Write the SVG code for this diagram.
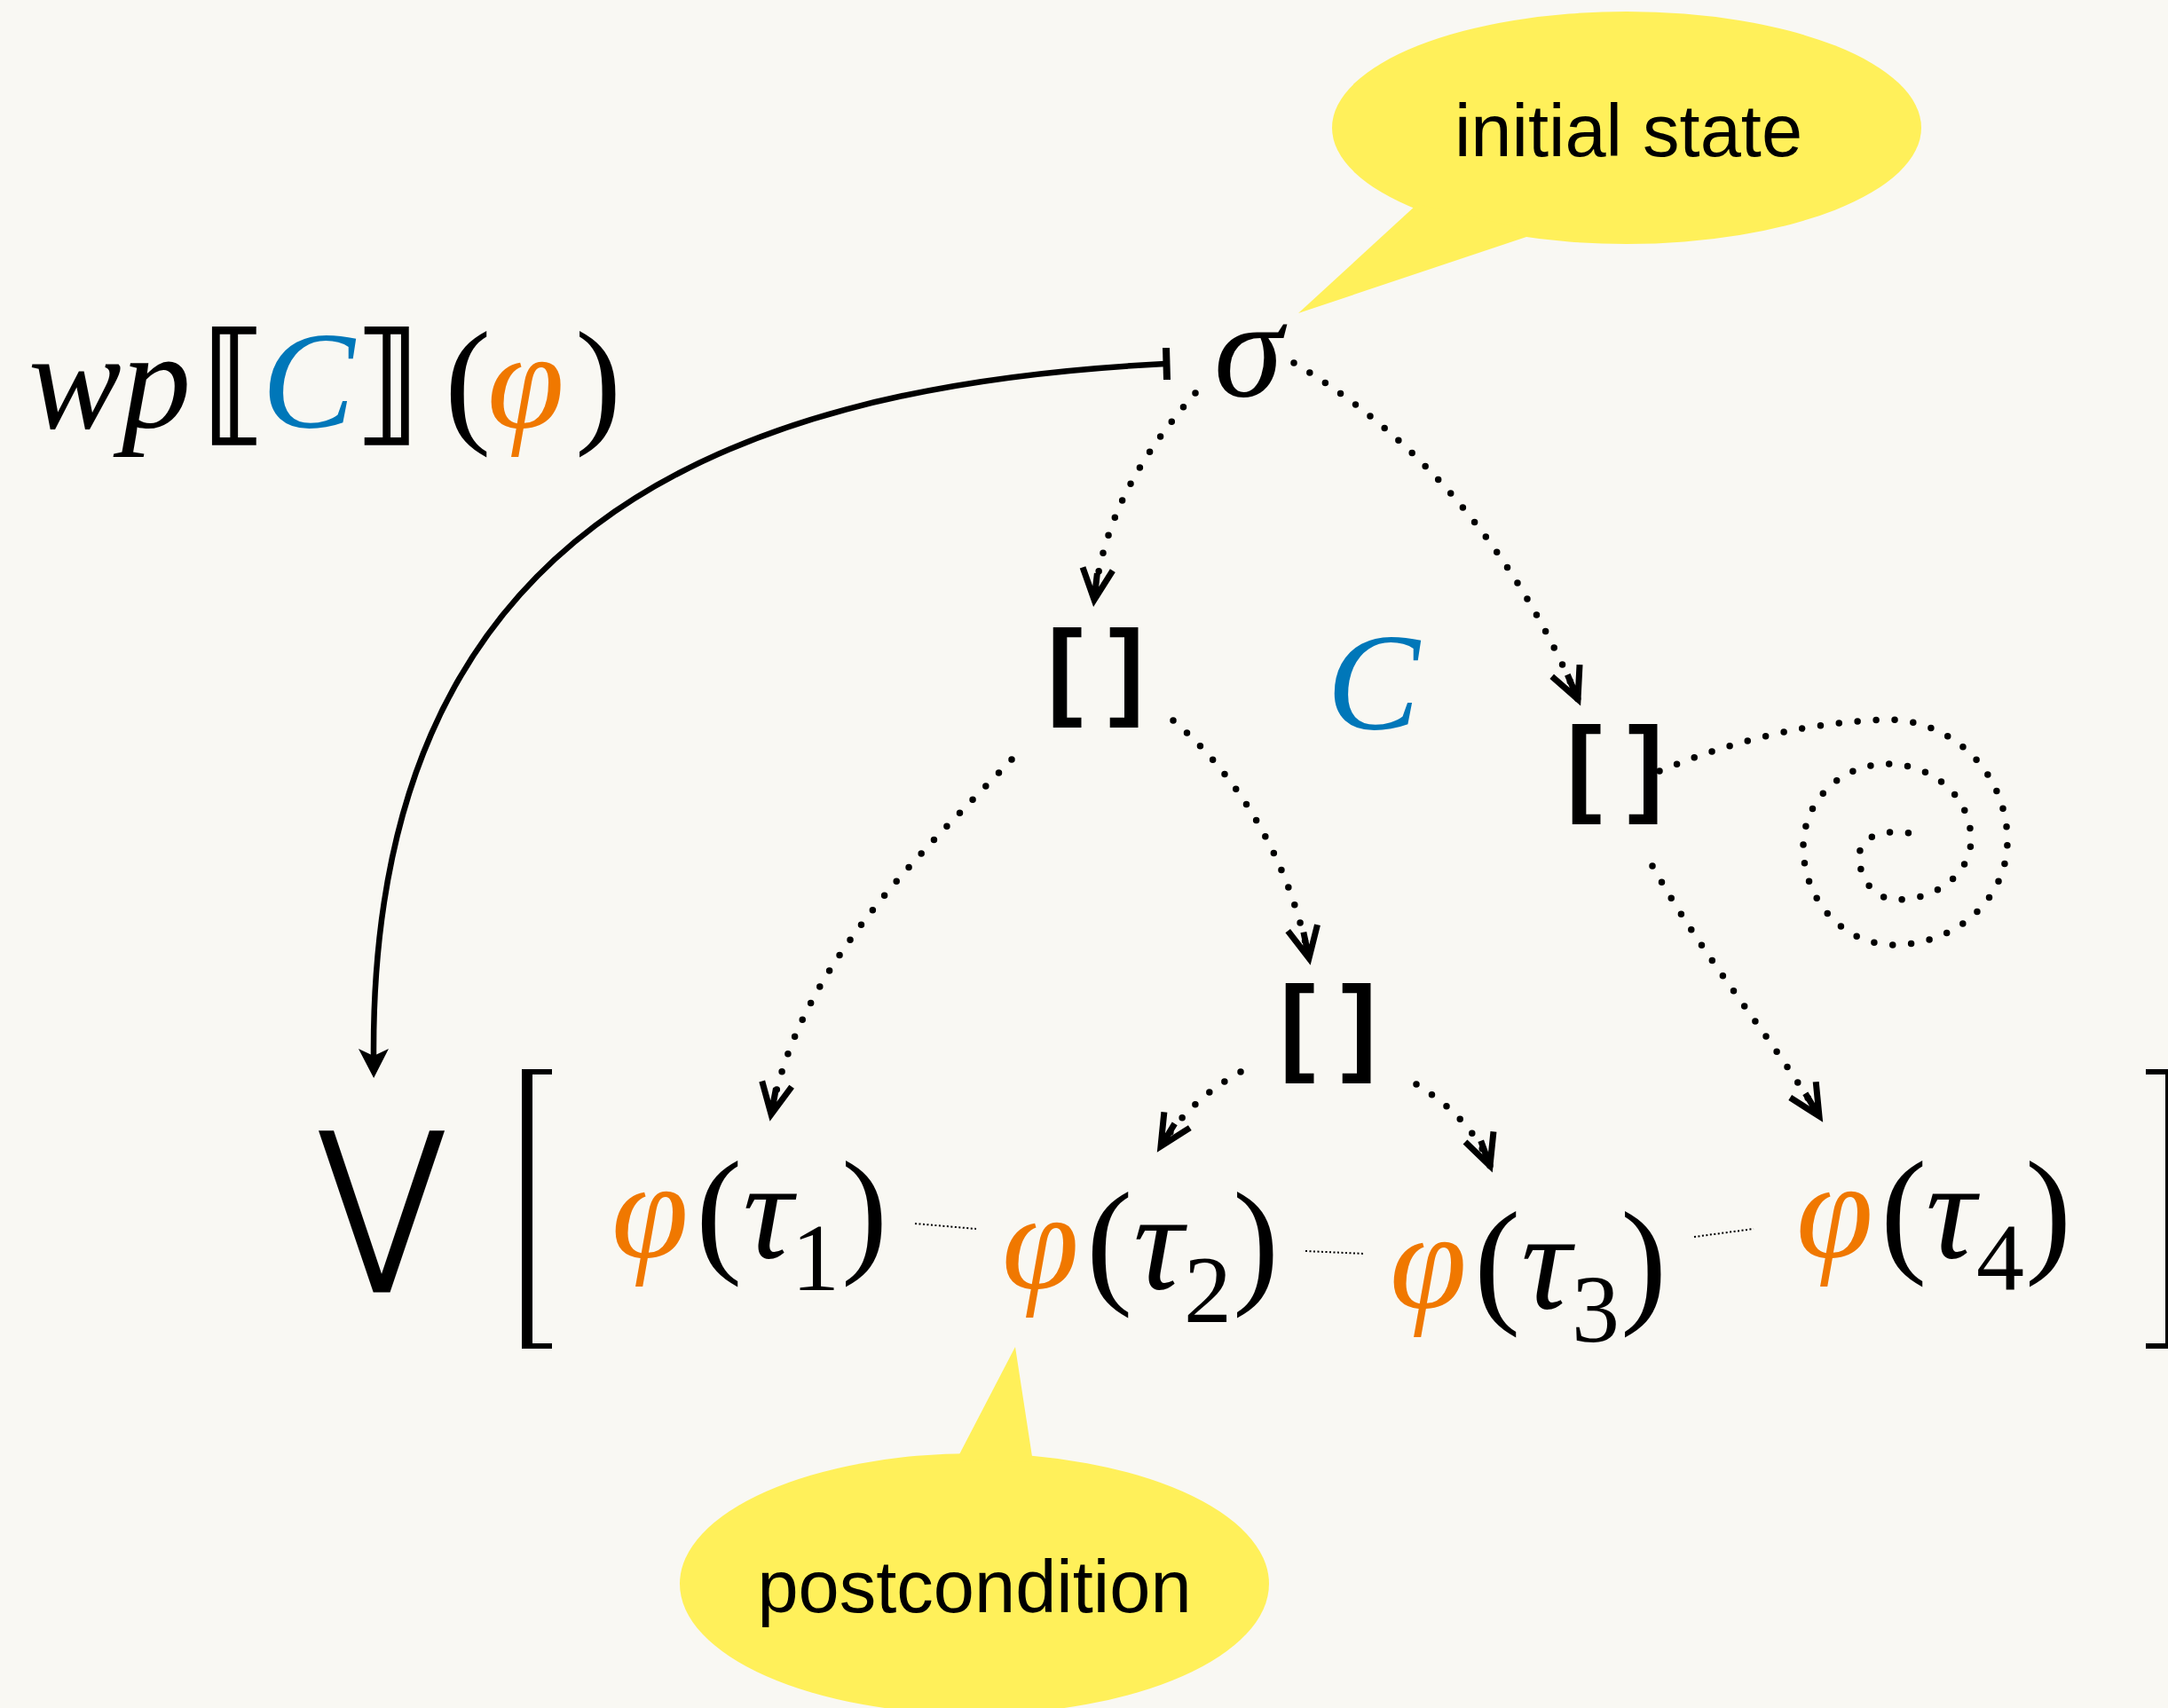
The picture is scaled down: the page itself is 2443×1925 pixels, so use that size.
<svg xmlns="http://www.w3.org/2000/svg" width="2443" height="1925" viewBox="0 0 2443 1925">
<defs>
<style>
.bubble{fill:#fff05a}
.label{font-family:"Liberation Sans",Arial,sans-serif;font-size:83px;fill:#000;text-anchor:middle}
.m{font-family:"Liberation Serif","Times New Roman",serif;font-size:157px;fill:#000}
.i{font-style:italic}
.sub{font-size:108px}
.or{fill:#f07800}
.bl{fill:#0077b9}
.br{font-family:"Liberation Sans",Arial,sans-serif;font-weight:bold;font-size:120px;word-spacing:-4px;fill:#000}
.sb{font-family:"DejaVu Serif","DejaVu Sans",serif;font-size:150px;font-weight:bold;fill:#000}
.big{font-family:"DejaVu Sans",sans-serif;font-size:200px;fill:#000;text-anchor:middle}
.dot{fill:none;stroke:#000;stroke-width:7.5;stroke-linecap:round;stroke-dasharray:0 21}
.fine{fill:none;stroke:#000;stroke-width:2;stroke-dasharray:2 2.5}
.solid{fill:none;stroke:#000;stroke-width:6.5}
</style>
<marker id="barb" markerUnits="userSpaceOnUse" viewBox="-40 -22 46 44" refX="0" refY="0" markerWidth="46" markerHeight="44" orient="auto" overflow="visible">
<path d="M-35,-17 L0,0 L-35,17 M-30,0 L0,0" fill="none" stroke="#000" stroke-width="7"/>
</marker>
<marker id="head" markerUnits="userSpaceOnUse" viewBox="-20 -25 50 50" refX="0" refY="0" markerWidth="50" markerHeight="50" orient="auto" overflow="visible">
<path d="M25,0 L-8,-17 L0,0 L-8,17 Z" fill="#000"/>
</marker>
</defs>
<rect width="2443" height="1925" fill="#f9f8f3"/>

<g id="bubble-initial">
<ellipse class="bubble" cx="1833" cy="144" rx="332" ry="131"/>
<polygon class="bubble" points="1597,230 1463,353 1735,262"/>
<text class="label" x="1835" y="176">initial state</text>
</g>

<g id="bubble-post">
<ellipse class="bubble" cx="1098" cy="1785" rx="332" ry="147"/>
<polygon class="bubble" points="1078,1645 1144,1518 1164,1648"/>
<text class="label" x="1098" y="1817">postcondition</text>
</g>

<g id="wp">
<text class="m" y="482"><tspan class="i" x="32">wp</tspan><tspan class="sb" x="226">⟦</tspan><tspan class="i bl" x="295">C</tspan><tspan class="sb" x="398">⟧</tspan><tspan x="501">(</tspan><tspan class="i or" x="549">φ</tspan><tspan x="648">)</tspan></text>
</g>

<g id="sigma"><text class="m i" x="1368" y="446">σ</text></g>
<g id="C"><text class="m i bl" x="1495" y="822">C</text></g>
<g id="nodeA"><text class="br" x="1180" y="795">[ ]</text></g>
<g id="nodeB"><text class="br" x="1765" y="904">[ ]</text></g>
<g id="nodeD"><text class="br" x="1442" y="1196">[ ]</text></g>

<g id="disj">
<text class="big" transform="translate(430,1418) scale(0.86,1)" x="0" y="0">⋁</text>
<polygon points="588,1205 622,1205 622,1211 600,1211 600,1514 622,1514 622,1520 588,1520"/>
<polygon points="2452,1205 2418,1205 2418,1211 2440,1211 2440,1514 2418,1514 2418,1520 2452,1520"/>
</g>

<g id="t1"><text class="m" y="1417"><tspan class="i or" x="689">φ</tspan><tspan x="784">(</tspan><tspan class="i" x="837">τ</tspan><tspan class="sub" x="892" dy="37">1</tspan><tspan x="948" dy="-37">)</tspan></text></g>
<g id="t2"><text class="m" y="1452"><tspan class="i or" x="1129">φ</tspan><tspan x="1224">(</tspan><tspan class="i" x="1277">τ</tspan><tspan class="sub" x="1334" dy="38">2</tspan><tspan x="1389" dy="-38">)</tspan></text></g>
<g id="t3"><text class="m" y="1474"><tspan class="i or" x="1566">φ</tspan><tspan x="1661">(</tspan><tspan class="i" x="1714">τ</tspan><tspan class="sub" x="1771" dy="38">3</tspan><tspan x="1826" dy="-38">)</tspan></text></g>
<g id="t4"><text class="m" y="1417"><tspan class="i or" x="2024">φ</tspan><tspan x="2119">(</tspan><tspan class="i" x="2170">τ</tspan><tspan class="sub" x="2227" dy="37">4</tspan><tspan x="2282" dy="-37">)</tspan></text></g>

<g id="connectors">
<path class="solid" d="M1313,410 C793,436 418,610 421,1190" marker-end="url(#head)"/>
<line x1="1314" y1="392" x2="1315" y2="428" stroke="#000" stroke-width="8"/>
<path class="dot" d="M1347,443 C1300,497 1245,570 1233,676" marker-end="url(#barb)"/>
<path class="dot" d="M1458,409 C1560,470 1690,580 1778,788" marker-end="url(#barb)"/>
<path class="dot" d="M1140,856 C1030,970 900,1090 869,1256" marker-end="url(#barb)"/>
<path class="dot" d="M1322,812 C1390,870 1450,960 1475,1080" marker-end="url(#barb)"/>
<path class="dot" d="M1398,1208 Q1340,1240 1308,1292" marker-end="url(#barb)"/>
<path class="dot" d="M1596,1222 Q1660,1262 1679,1314" marker-end="url(#barb)"/>
<path class="dot" d="M1862,976 C1920,1080 1990,1160 2050,1258" marker-end="url(#barb)"/>
<path class="dot" d="M1870,869 Q2000,815 2126,811 A136,137 0 0 1 2262,948 A128,117 0 0 1 2134,1065 A102,111 0 0 1 2032,954 A95,93 0 0 1 2127,861 A94,85 0 0 1 2221,946 A84,68 0 0 1 2137,1014 A42,49 0 0 1 2095,965 A35,27 0 0 1 2130,938 A40,40 0 0 1 2154,940"/>
<line class="fine" x1="1031" y1="1379" x2="1100" y2="1385"/>
<line class="fine" x1="1471" y1="1410" x2="1538" y2="1413"/>
<line class="fine" x1="1909" y1="1394" x2="1976" y2="1385"/>
</g>
</svg>
